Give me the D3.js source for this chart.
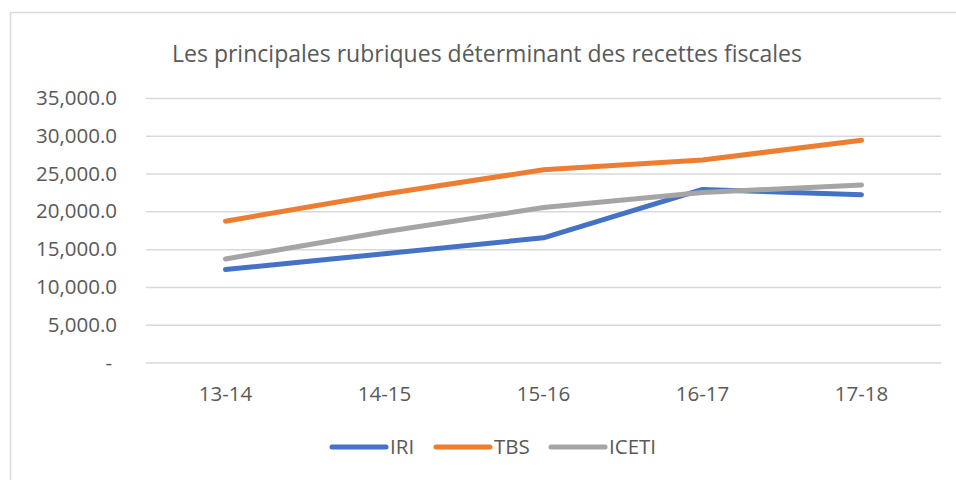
<!DOCTYPE html>
<html>
<head>
<meta charset="utf-8">
<script src="https://cdn.jsdelivr.net/npm/d3@7"></script>
<style>
  body { margin: 0; background: #fff; }
  text { font-family: "Open Sans", sans-serif; fill: #595959; }
</style>
</head>
<body>
<div id="chart"></div>
<script>
var categories = ["13-14", "14-15", "15-16", "16-17", "17-18"];
var seriesNames = ["IRI", "TBS", "ICETI"];
var iri = [12300, 14400, 16500, 22900, 22200];
var tbs = [18700, 22300, 25500, 26800, 29400];
var iceti = [13700, 17300, 20500, 22500, 23500];
var yTicks = [0, 5000, 10000, 15000, 20000, 25000, 30000, 35000];
var colors = ["#4472C4", "#ED7D31", "#A5A5A5"];

var series = [iri, tbs, iceti].map(function(v, i) {
	return { name: seriesNames[i], values: v, color: colors[i] };
});

var full_width = 956, full_height = 480;
var margin = {top: 98, bottom: 117.5, left: 146, right: 15};
var width = full_width - margin.left - margin.right,
	height = full_height - margin.top - margin.bottom;

var svg = d3.select("#chart").append("svg")
	.attr("width", full_width)
	.attr("height", full_height);

// chart frame
svg.append("rect")
	.attr("x", 10.5).attr("y", 12.5)
	.attr("width", 1000).attr("height", 600)
	.attr("fill", "none")
	.attr("stroke", "#d9d9d9")
	.attr("stroke-width", 1.5);

svg.append("text")
	.attr("x", 487).attr("y", 62)
	.attr("text-anchor", "middle")
	.attr("textLength", 630)
	.attr("lengthAdjust", "spacingAndGlyphs")
	.style("font-size", "24px")
	.style("font-weight", 400)
	.text("Les principales rubriques déterminant des recettes fiscales");

var g = svg.append("g")
	.attr("transform", "translate(" + margin.left + "," + margin.top + ")");

var x = d3.scaleBand().domain(categories).range([0, width]);
var y = d3.scaleLinear().domain([0, 35000]).range([height, 0]);

var fmt = d3.format(",.1f");

var yAxis = g.append("g")
	.call(d3.axisLeft(y).tickValues(yTicks).tickSize(-width).tickPadding(29)
		.tickFormat(function(d) { return d === 0 ? "-" : fmt(d); }));
yAxis.select(".domain").remove();
yAxis.selectAll(".tick line").attr("stroke", "#d9d9d9").attr("stroke-width", 1.5);
yAxis.selectAll(".tick text")
	.style("font-size", "20.5px")
	.attr("fill", "#595959")
	.attr("dx", function(d) { return d === 0 ? -5 : 0; });

var xAxis = g.append("g")
	.attr("transform", "translate(0," + height + ")")
	.call(d3.axisBottom(x).tickSize(0).tickPadding(24));
xAxis.select(".domain").remove();
xAxis.selectAll(".tick text").style("font-size", "20.5px").attr("fill", "#595959");

var line = d3.line()
	.x(function(d, i) { return x(categories[i]) + x.bandwidth() / 2; })
	.y(function(d) { return y(d); });

g.selectAll(".series")
	.data(series)
  .enter().append("path")
	.attr("class", "series")
	.attr("d", function(d) { return line(d.values); })
	.attr("fill", "none")
	.attr("stroke", function(d) { return d.color; })
	.attr("stroke-width", 5)
	.attr("stroke-linecap", "round")
	.attr("stroke-linejoin", "round");

// legend
var legendX = [332, 436, 551];
var legend = svg.selectAll(".legend")
	.data(series)
  .enter().append("g")
	.attr("class", "legend")
	.attr("transform", function(d, i) { return "translate(" + legendX[i] + ",447)"; });

legend.append("line")
	.attr("x1", 0).attr("x2", 54)
	.attr("stroke", function(d) { return d.color; })
	.attr("stroke-width", 5)
	.attr("stroke-linecap", "round");

legend.append("text")
	.attr("x", 58).attr("dy", "0.35em")
	.style("font-size", "20.5px")
	.text(function(d) { return d.name; });
</script>
</body>
</html>
